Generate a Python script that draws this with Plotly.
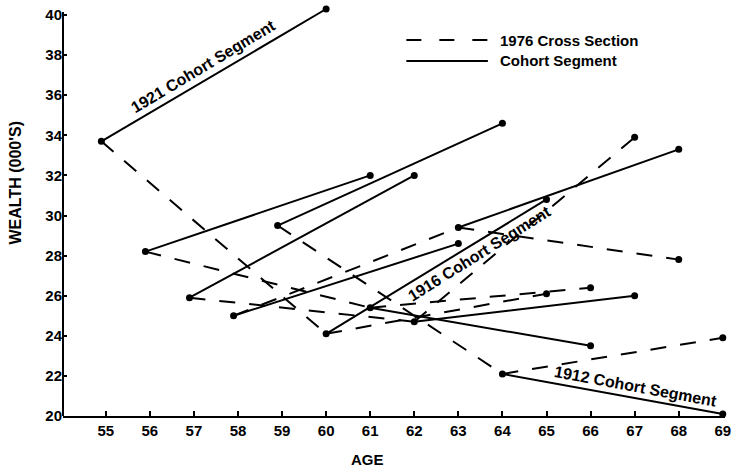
import plotly.graph_objects as go

# Wealth (thousands) by age: each starting age is followed five years on
# along its cohort (solid) and along the cross section (dashed).
start_age = [54.9, 55.9, 56.9, 57.9, 58.9]
start_wealth = [33.7, 28.2, 25.9, 25.0, 29.5]

mid_age = [60, 61, 62, 63, 64]
mid_cohort_wealth = [40.3, 32.0, 32.0, 28.6, 34.6]
mid_cross_wealth = [24.1, 25.4, 24.7, 29.4, 22.1]

end_age = [65, 66, 67, 68, 69]
end_cohort_wealth = [30.8, 23.5, 26.0, 33.3, 20.1]
end_cross_wealth = [26.1, 26.4, 33.9, 27.8, 23.9]

x_ticks = list(range(55, 70))
y_ticks = list(range(20, 41, 2))

FONT = "Liberation Sans, Arial, sans-serif"


def segments(x0, y0, x1, y1):
    xs, ys = [], []
    for a, b, c, d in zip(x0, y0, x1, y1):
        xs += [a, c, None]
        ys += [b, d, None]
    return xs, ys


solid_x, solid_y = segments(start_age, start_wealth, mid_age, mid_cohort_wealth)
sx2, sy2 = segments(mid_age, mid_cross_wealth, end_age, end_cohort_wealth)
solid_x += sx2
solid_y += sy2

dash_x, dash_y = segments(start_age, start_wealth, mid_age, mid_cross_wealth)
dx2, dy2 = segments(mid_age, mid_cross_wealth, end_age, end_cross_wealth)
dash_x += dx2
dash_y += dy2

pts_x = start_age + mid_age + mid_age + end_age + end_age
pts_y = (start_wealth + mid_cohort_wealth + mid_cross_wealth
         + end_cohort_wealth + end_cross_wealth)


def bold(size):
    return dict(family=FONT, size=size, color="black", weight="bold")


fig = go.Figure()
fig.add_trace(go.Scatter(x=dash_x, y=dash_y, mode="lines",
                         line=dict(color="black", width=2, dash="16px,14px"),
                         hoverinfo="skip", showlegend=False))
fig.add_trace(go.Scatter(x=solid_x, y=solid_y, mode="lines",
                         line=dict(color="black", width=2),
                         hoverinfo="skip", showlegend=False))
fig.add_trace(go.Scatter(x=pts_x, y=pts_y, mode="markers",
                         marker=dict(color="black", size=7),
                         cliponaxis=False, showlegend=False))

# segment labels
labels = [
    ("1921 Cohort Segment", 57.21, 37.41, -31),
    ("1916 Cohort Segment", 63.48, 28.10, -32),
    ("1912 Cohort Segment", 67.03, 21.45, 10.5),
]
for txt, lx, ly, ang in labels:
    fig.add_annotation(x=lx, y=ly, text=txt, showarrow=False, textangle=ang,
                       font=bold(16))

# key
fig.add_shape(type="line", x0=61.82, x1=63.67, y0=38.75, y1=38.75,
              line=dict(color="black", width=2, dash="15px,18px"))
fig.add_shape(type="line", x0=61.82, x1=63.67, y0=37.71, y1=37.71,
              line=dict(color="black", width=2))
fig.add_annotation(x=63.9, y=38.75, text="1976 Cross Section", showarrow=False,
                   xanchor="left", yanchor="middle", font=bold(15))
fig.add_annotation(x=63.9, y=37.71, text="Cohort Segment", showarrow=False,
                   xanchor="left", yanchor="middle", font=bold(15))

# vertical axis line, stopping at the top tick
fig.add_shape(type="line", xref="paper", x0=0, x1=0, yref="y", y0=20, y1=40.15,
              line=dict(color="black", width=2))

# axis titles
fig.add_annotation(xref="paper", yref="paper", x=-0.072, y=0.569, text="WEALTH (000'S)",
                   textangle=-90, showarrow=False, xanchor="center", yanchor="middle",
                   font=bold(16))
fig.add_annotation(xref="paper", yref="paper", x=0.460, y=-0.107, text="AGE",
                   showarrow=False, xanchor="center", yanchor="middle", font=bold(15))

fig.update_xaxes(range=[54.03, 69.05], tickvals=x_ticks, ticks="inside", ticklen=5,
                 tickwidth=2, tickcolor="black", showline=True, linecolor="black",
                 linewidth=2, showgrid=False, zeroline=False, tickfont=bold(15))
fig.update_yaxes(range=[20, 40.5], tickvals=y_ticks, ticks="inside", ticklen=4,
                 tickwidth=2, tickcolor="black", showline=False, showgrid=False,
                 zeroline=False, tickfont=bold(15))

fig.update_layout(width=736, height=471, margin=dict(l=63, r=8, t=5, b=55),
                  paper_bgcolor="white", plot_bgcolor="white")

fig.write_html("out.html")
